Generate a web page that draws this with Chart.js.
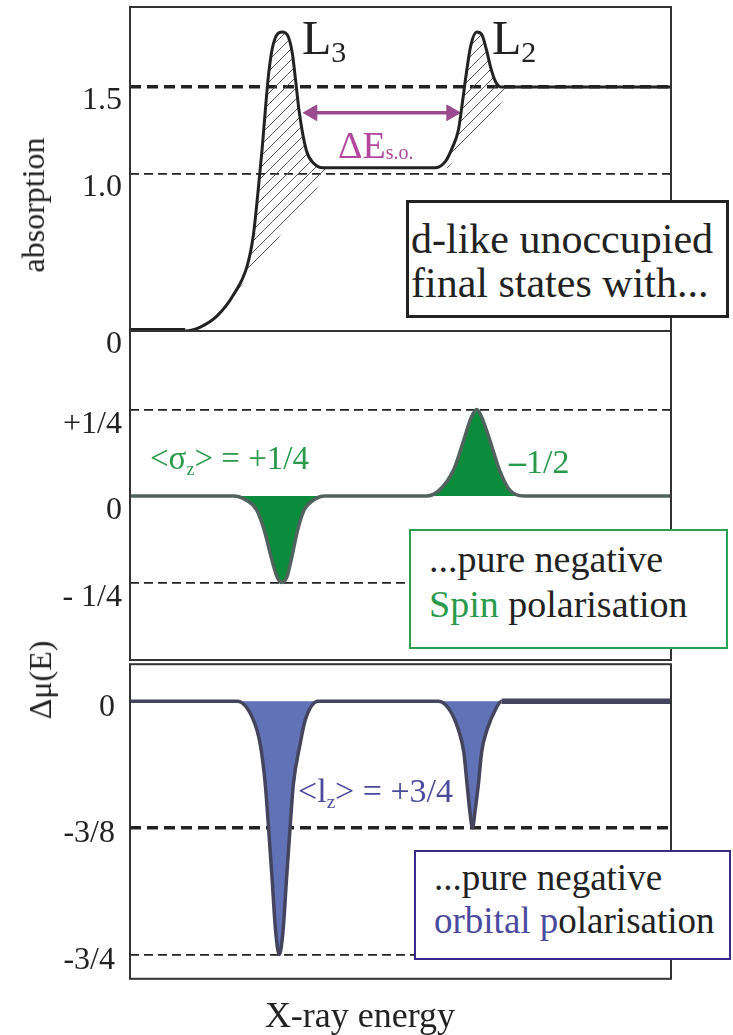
<!DOCTYPE html>
<html>
<head>
<meta charset="utf-8">
<script src="https://cdn.jsdelivr.net/npm/chart.js@4.4.0/dist/chart.umd.min.js"></script>
<style>
  body { margin: 0; background: #fff; font-family: "Liberation Serif", "DejaVu Serif", serif; }
  #page { position: relative; width: 733px; height: 1035px; overflow: hidden; color: #222; }
  .panel { position: absolute; left: 0; width: 733px; }
  .txt, .box, .rot { font-family: "Liberation Serif", "DejaVu Serif", serif; }
  .txt { position: absolute; white-space: nowrap; }
  .box { position: absolute; box-sizing: border-box; background: #fff; white-space: nowrap; }
  .rot { position: absolute; transform: translate(-50%, -50%) rotate(-90deg);
         white-space: nowrap; font-size: 32px; line-height: 32px; }
</style>
</head>
<body>
<div id="page">
  <div class="panel" style="top:-23px;height:384px"><canvas id="absChart"></canvas></div>
  <div class="panel" style="top:301px;height:389px"><canvas id="spinChart"></canvas></div>
  <div class="panel" style="top:630px;height:383px"><canvas id="orbChart"></canvas></div>

  <div class="rot" style="left:33px;top:205px">absorption</div>
  <div class="rot" style="left:40px;top:680px">Δμ(E)</div>
  <div class="txt" style="left:160px;top:997px;width:400px;text-align:center;font-size:36px;line-height:36px">X-ray energy</div>

  <div class="txt" style="left:302px;top:14px;font-size:48px;line-height:48px">L<span style="font-size:30px;vertical-align:-8px">3</span></div>
  <div class="txt" style="left:492px;top:14px;font-size:48px;line-height:48px">L<span style="font-size:30px;vertical-align:-8px">2</span></div>
  <div class="txt" style="left:338px;top:126px;font-size:38px;line-height:38px;color:#b3479f">ΔE<span style="font-size:20px;vertical-align:-1px">s.o.</span></div>

  <div class="txt" style="left:150px;top:442px;font-size:33px;line-height:33px;color:#2a9a4a">&lt;σ<span style="font-size:18px;vertical-align:-6px">z</span>&gt; = +1/4</div>
  <div class="txt" style="left:509px;top:445px;font-size:34px;line-height:34px;color:#2a9a4a"><b>–</b>1/2</div>
  <div class="txt" style="left:298px;top:774px;font-size:34px;line-height:34px;color:#4a4a9a">&lt;l<span style="font-size:19px;vertical-align:-6px">z</span>&gt; = +3/4</div>

  <div class="box" style="left:406px;top:200px;width:323px;height:118px;border:3px solid #222;padding:14px 0 0 2px;font-size:42px;line-height:44px">d-like unoccupied<br>final states with...</div>
  <div class="box" style="left:409px;top:529px;width:319px;height:120px;border:2px solid #2aa050;padding:6px 0 0 18px;font-size:38px;line-height:45px">...pure negative<br><span style="color:#2a9a4a">Spin</span> polarisation</div>
  <div class="box" style="left:414px;top:850px;width:317px;height:110px;border:2px solid #3a2a8a;padding:4px 0 0 18px;font-size:37px;line-height:43px">...pure negative<br><span style="color:#4a4aa0">orbital p</span>olarisation</div>
</div>

<script>
// x-ray energy, arbitrary units (0..100 across the frame)
const absEnergy = [0, 10.2, 13.0, 16.1, 19.1, 21.7, 22.8, 23.7, 24.4, 25.0, 25.6, 26.3, 27.2, 28.1, 29.1, 30.0, 30.6, 31.3, 32.6, 33.9, 35.7,
  56.5, 58.3, 59.6, 60.7, 61.5, 62.0, 63.0, 64.1, 65.0, 65.9, 66.7, 67.6, 68.5, 100];
const absValues = [0, 0, 0.025, 0.096, 0.229, 0.42, 0.61, 0.9, 1.15, 1.4, 1.63, 1.80, 1.89, 1.905, 1.885, 1.77, 1.6, 1.39, 1.15, 1.07, 1.04,
  1.04, 1.08, 1.17, 1.28, 1.47, 1.6, 1.82, 1.905, 1.89, 1.79, 1.675, 1.586, 1.555, 1.555];

// two-step edge background (lower edge of the hatching)
const stepEnergy = [0, 10.2, 13.0, 16.1, 19.1, 20.4, 37.5, 58.8, 71.0, 100];
const stepValues = [0, 0, 0.025, 0.096, 0.229, 0.28, 1.04, 1.04, 1.555, 1.555];

// spin-orbit splitting arrow
const arrowEnergy = [33.7, 59.4];
const arrowLevel = 1.39;

const absTickPos = [0, 1.0, 1.555];
const absTickText = ['0', '1.0', '1.5'];

const spinEnergy = [0, 19.1, 21.5, 23.4, 24.8, 26.1, 27.2, 28.1, 29.0, 29.9, 31.0, 32.2, 33.9, 36.0,
  54.8, 57.2, 59.8, 61.7, 63.1, 64.1, 65.0, 66.5, 68.3, 70.2, 72.8, 100];
const spinValues = [0, 0, -0.012, -0.04, -0.098, -0.177, -0.234, -0.25, -0.234, -0.177, -0.098, -0.04, -0.012, 0,
  0, 0.017, 0.075, 0.162, 0.228, 0.25, 0.228, 0.162, 0.075, 0.017, 0, 0];
const spinTickPos = [0.25, 0, -0.25];
const spinTickText = ['+1/4', '0', '- 1/4'];

const orbEnergy = [0, 19.8, 22.8, 24.1, 25.0, 25.6, 26.3, 26.9, 27.6, 28.3, 28.9, 29.6, 30.2, 31.4, 32.4, 34.8,
  57.0, 59.1, 60.7, 61.7, 62.3, 62.8, 63.3, 63.8, 64.4, 65.0, 66.0, 67.5, 68.7, 100];
const orbValues = [0, 0, -0.055, -0.13, -0.245, -0.372, -0.534, -0.678, -0.75, -0.678, -0.534, -0.372, -0.245, -0.13, -0.055, 0,
  0, -0.026, -0.084, -0.15, -0.245, -0.323, -0.375, -0.323, -0.245, -0.15, -0.084, -0.026, 0, 0];
const orbTickPos = [0, -0.375, -0.75];
const orbTickText = ['0', '-3/8', '-3/4'];

const pts = (xs, ys) => xs.map((x, i) => ({ x: x, y: ys[i] }));

function hatch() {
  const c = document.createElement('canvas');
  c.width = 11; c.height = 11;
  const g = c.getContext('2d');
  g.strokeStyle = '#555';
  g.lineWidth = 1;
  g.beginPath();
  g.moveTo(0, 11); g.lineTo(11, 0);
  g.moveTo(-1, 1); g.lineTo(1, -1);
  g.moveTo(10, 12); g.lineTo(12, 10);
  g.stroke();
  return g.createPattern(c, 'repeat');
}

const frame = {
  id: 'frame',
  afterDatasetsDraw(chart) {
    const a = chart.chartArea, ctx = chart.ctx;
    ctx.save();
    ctx.strokeStyle = '#333';
    ctx.lineWidth = 2;
    ctx.strokeRect(a.left, a.top, a.right - a.left, a.bottom - a.top);
    ctx.restore();
  }
};

function yAxis(min, max, tickPos, tickText, offset, pad, thick) {
  return {
    min: min, max: max,
    afterFit: s => { s.width = 130; },
    afterBuildTicks: s => { s.ticks = tickPos.map(v => ({ value: v })); },
    ticks: {
      autoSkip: false,
      color: '#222',
      padding: pad,
      labelOffset: offset,
      font: { family: 'Liberation Serif', size: 32 },
      callback: (v, i) => tickText[i]
    },
    grid: {
      drawTicks: false,
      color: c => (c.tick && c.tick.value !== 0) ? '#222' : 'rgba(0,0,0,0)',
      lineWidth: c => (c.tick && thick(c.tick.value)) ? 3.5 : 1.8
    },
    border: {
      display: false,
      dash: c => (c.tick && thick(c.tick.value)) ? [11, 6] : [9, 5]
    }
  };
}

function options(y) {
  return {
    responsive: true,
    maintainAspectRatio: false,
    animation: false,
    events: [],
    layout: { padding: { top: 30, bottom: 30, left: 0, right: 62 } },
    plugins: { legend: { display: false }, tooltip: { enabled: false } },
    elements: { point: { radius: 0 } },
    scales: {
      x: { type: 'linear', min: 0, max: 100, display: false },
      y: y
    }
  };
}

new Chart(document.getElementById('absChart'), {
  type: 'line',
  data: {
    datasets: [{
      data: pts(absEnergy, absValues),
      borderColor: '#222',
      borderWidth: 3,
      cubicInterpolationMode: 'monotone',
      segment: { borderWidth: c => c.p1.parsed.x <= absEnergy[1] ? 6 : 3 },
      fill: false
    }, {
      data: pts(stepEnergy, stepValues),
      borderColor: 'rgba(0,0,0,0)',
      borderWidth: 1,
      tension: 0,
      backgroundColor: hatch(),
      fill: '-1'
    }, {
      data: arrowEnergy.map(x => ({ x: x, y: arrowLevel })),
      borderColor: '#9b4a8f',
      borderWidth: 3.5,
      pointStyle: 'triangle',
      pointRadius: 9,
      pointRotation: [-90, 90],
      pointBackgroundColor: '#9b4a8f',
      pointBorderColor: '#9b4a8f',
      pointBorderWidth: 1,
      fill: false
    }]
  },
  options: options(yAxis(0, 2.064, absTickPos, absTickText, 14, 8, v => v > 1.2)),
  plugins: [frame]
});

new Chart(document.getElementById('spinChart'), {
  type: 'line',
  data: {
    datasets: [{
      data: pts(spinEnergy, spinValues),
      borderColor: '#52625e',
      borderWidth: 3.5,
      cubicInterpolationMode: 'monotone',
      backgroundColor: '#0b8c3c',
      fill: 'origin'
    }]
  },
  options: options(yAxis(-0.474, 0.477, spinTickPos, spinTickText, 15, 8, v => false)),
  plugins: [frame]
});

new Chart(document.getElementById('orbChart'), {
  type: 'line',
  data: {
    datasets: [{
      data: pts(orbEnergy, orbValues),
      borderColor: '#44445e',
      borderWidth: 3.5,
      cubicInterpolationMode: 'monotone',
      segment: { borderWidth: c => c.p0.parsed.x >= orbEnergy[orbEnergy.length - 2] ? 5.5 : 3.5 },
      backgroundColor: '#6272b6',
      fill: 'origin'
    }]
  },
  options: options(yAxis(-0.822, 0.11, orbTickPos, orbTickText, 6, 15, v => v < -0.3 && v > -0.5)),
  plugins: [frame]
});
</script>
</body>
</html>
